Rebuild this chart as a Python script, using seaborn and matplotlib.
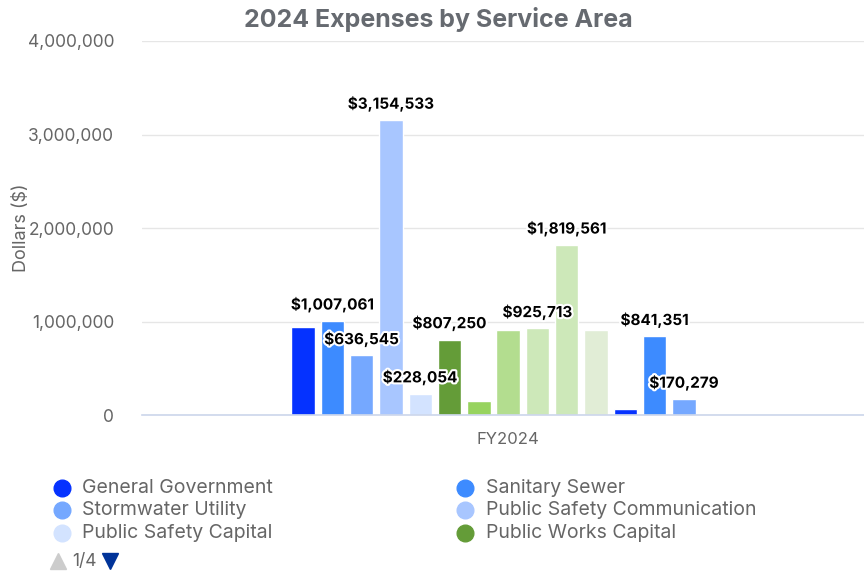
import matplotlib
matplotlib.use("Agg")
import matplotlib.pyplot as plt
import matplotlib.patheffects as pe
from matplotlib.lines import Line2D
import seaborn as sns
import pandas as pd

# ---- data ----
years = ["FY2024"]
series_names = [
    "General Government", "Sanitary Sewer", "Stormwater Utility",
    "Public Safety Communication", "Public Safety Capital", "Public Works Capital",
    "Area 7", "Area 8", "Area 9", "Area 10", "Area 11",
    "Area 12", "Area 13", "Area 14", "Area 15",
]
values = [940000, 1007061, 636545, 3154533, 228054, 807250, 145000, 907000,
          925713, 1819561, 904000, 60000, 841351, 170279, 0]
colors = ["#0532ff", "#3d8bff", "#75a8ff", "#a8c6ff", "#d3e3ff", "#649c38",
          "#97d35e", "#b3dd8f", "#cde8b9", "#cde8b9", "#e1edd6",
          "#0532ff", "#3d8bff", "#75a8ff", "#a8c6ff"]
show_label = [False, True, True, True, True, True, False, False,
              True, True, False, False, True, True, False]
y_ticks = [0, 1000000, 2000000, 3000000, 4000000]
legend_items = series_names[:6]

df = pd.DataFrame({"Year": years * len(series_names),
                   "Series": series_names,
                   "Value": values})

sns.set_theme(style="white")
plt.rcParams["font.family"] = ["Inter", "DejaVu Sans"]

GREY = "#666666"
fig = plt.figure(figsize=(8.64, 5.73), dpi=100)
ax = fig.add_axes([142 / 864, 1 - 415 / 573, 1 - 142 / 864, (415 - 41) / 573])

sns.barplot(data=df, x="Year", y="Value", hue="Series",
            hue_order=series_names, palette=dict(zip(series_names, colors)),
            width=0.6, gap=0.2, edgecolor="white", linewidth=1, saturation=1,
            legend=False, ax=ax, errorbar=None)

ax.set_xlim(-0.5, 0.486)
ax.set_ylim(0, 4000000)
ax.set_yticks(y_ticks)
ax.set_yticklabels([f"{v:,}" for v in y_ticks], color=GREY, fontsize=12.5)
ax.yaxis.grid(True, color="#e6e6e6", linewidth=1)
ax.set_axisbelow(True)
for s in ["top", "right", "left"]:
    ax.spines[s].set_visible(False)
ax.spines["bottom"].set_color("#ccd6eb")
ax.spines["bottom"].set_linewidth(1.2)
ax.tick_params(axis="y", length=0, pad=20)
ax.tick_params(axis="x", length=0, pad=12, labelsize=12, labelcolor=GREY)
ax.set_xlabel("")
ax.set_ylabel("Dollars ($)", color=GREY, fontsize=13)
ax.yaxis.set_label_coords((30 - 142) / 722, 0.5)

# data labels
for cont, val, show in zip(ax.containers, values, show_label):
    if show:
        txts = ax.bar_label(cont, labels=[f"${val:,}"], padding=6,
                            fontsize=11, fontweight="bold", color="black")
        for t in txts:
            t.set_path_effects([pe.withStroke(linewidth=3, foreground="white")])

# title
fig.text(0.507, 1 - 19 / 573, "2024 Expenses by Service Area", ha="center",
         va="center", fontsize=18, fontweight="bold", color="#666a70")

# legend (page 1 of 4)
rows_y = [487, 509, 532]
cols = [(62, 82), (465, 486)]
for i, name in enumerate(legend_items):
    col = i % 2
    row = i // 2
    mx, tx = cols[col]
    y = 1 - (rows_y[row] + 1) / 573
    fig.add_artist(Line2D([mx / 864], [y], marker="o", markersize=12,
                          color=colors[i], linestyle="none",
                          transform=fig.transFigure))
    fig.text(tx / 864, y, name, ha="left", va="center", fontsize=14, color=GREY)

ny = 1 - 561 / 573
fig.add_artist(Line2D([58 / 864], [ny], marker="^", markersize=12,
                      color="#cccccc", linestyle="none", transform=fig.transFigure))
fig.text(72 / 864, ny, "1/4", ha="left", va="center", fontsize=12.5, color=GREY)
fig.add_artist(Line2D([110 / 864], [ny], marker="v", markersize=12,
                      color="#003399", linestyle="none", transform=fig.transFigure))

fig.savefig("out.png", dpi=100, facecolor="white")
